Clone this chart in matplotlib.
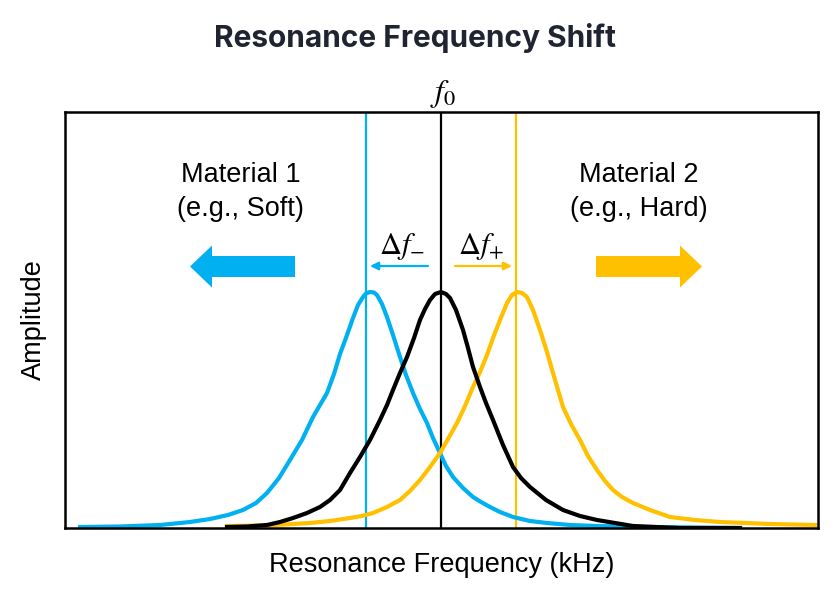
# -*- coding: utf-8 -*-
import matplotlib
matplotlib.use("Agg")
import matplotlib.pyplot as plt
from matplotlib.patches import FancyArrow

plt.rcParams['font.family'] = ['Liberation Sans', 'DejaVu Sans']
plt.rcParams['mathtext.fontset'] = 'stix'

BLUE = '#00B0F0'
GOLD = '#FFC000'

# arbitrary units (no ticks on the chart)
f_soft = 301
f_0 = 376
f_hard = 451

# Material 1 (soft) response
soft_x = [15, 55, 95, 125, 145, 163, 178, 191, 202, 214, 225, 237, 248, 255, 262, 269, 275,
          282, 288, 293, 298, 301, 305, 309, 312, 317, 322, 328, 335, 341, 348, 355, 362,
          368, 375, 381, 388, 398, 408, 416, 425, 435, 448, 465, 482, 505, 532, 575, 675]
soft_y = [1, 1.5, 3, 6, 9, 13, 18, 25, 35, 50, 68, 88, 111, 123, 135, 154, 174,
          193, 210, 223, 231, 234.5, 236, 235.5, 233, 224, 211, 193, 171, 153, 135, 119, 105,
          90, 75, 62, 51, 40, 31, 26, 21, 16, 11, 7, 5, 3, 2, 1, 0]

# reference response (f0)
ref_x = [162, 182, 202, 215, 228, 242, 255, 265, 275, 285, 295, 305, 315, 322, 328, 335,
         342, 349, 355, 360, 365, 370, 376, 381, 385, 391, 398, 403, 408, 415, 421, 428,
         438, 448, 456, 465, 481, 498, 515, 532, 550, 568, 615, 675]
ref_y = [1, 1.5, 3, 6, 10, 15, 21, 28, 38, 55, 71, 88, 108, 123, 138, 155,
         171, 190, 208, 219, 228, 234, 236, 234, 230, 218, 198, 180, 161, 141, 125, 108,
         83, 61, 50, 41, 28, 18, 12, 8, 5, 2, 0, 0]

# Material 2 (hard) response
hard_x = [162, 202, 245, 265, 285, 297, 308, 322, 335, 345, 355, 365, 375, 383, 392, 400,
          408, 415, 422, 428, 435, 442, 447, 452, 457, 462, 468, 475, 482, 488, 493, 498,
          506, 515, 523, 532, 540, 548, 557, 568, 585, 605, 630, 655, 705, 750]
hard_y = [2, 2.5, 5, 7, 10, 12, 15, 21, 28, 37, 48, 61, 75, 89, 105, 122,
          141, 156, 173, 190, 208, 225, 233, 236, 235, 231, 218, 198, 176, 155, 138, 121,
          104, 88, 72, 58, 47, 38, 31, 25, 18, 11, 8, 6, 4, 3]

fig = plt.figure(figsize=(8.4, 6), dpi=100)
ax = fig.add_axes([65 / 840, 72 / 600, 753 / 840, 416 / 600])
ax.set_xlim(0, 753)
ax.set_ylim(0, 416)

ax.axvline(f_soft, color=BLUE, lw=1.6, zorder=1)
ax.axvline(f_0, color='black', lw=1.6, zorder=1)
ax.axvline(f_hard, color=GOLD, lw=1.6, zorder=1)

ax.plot(soft_x, soft_y, color=BLUE, lw=3, zorder=2, solid_joinstyle='round')
ax.plot(hard_x, hard_y, color=GOLD, lw=3, zorder=2, solid_joinstyle='round')
ax.plot(ref_x, ref_y, color='black', lw=3, zorder=3, solid_joinstyle='round')

ax.set_xticks([])
ax.set_yticks([])
for s in ax.spines.values():
    s.set_linewidth(1.8)

# small shift arrows
ax.annotate('', xy=(305, 262), xytext=(363, 262),
            arrowprops=dict(arrowstyle='-|>', color=BLUE, lw=1.6, mutation_scale=12,
                            shrinkA=0, shrinkB=0))
ax.annotate('', xy=(447, 262), xytext=(390, 262),
            arrowprops=dict(arrowstyle='-|>', color=GOLD, lw=1.6, mutation_scale=12,
                            shrinkA=0, shrinkB=0))
ax.text(337, 282, r'$\Delta f_{-}$', fontsize=22, ha='center', va='center')
ax.text(416, 282, r'$\Delta f_{+}$', fontsize=22, ha='center', va='center')
ax.text(f_0 + 2, 1.005, r'$f_0$', fontsize=23, ha='center', va='bottom',
        transform=ax.get_xaxis_transform())

# big direction arrows
ax.add_patch(FancyArrow(230, 261.5, -105, 0, width=21, head_width=42,
                        head_length=22, length_includes_head=True, color=BLUE, lw=0))
ax.add_patch(FancyArrow(531, 261.5, 106, 0, width=21, head_width=42,
                        head_length=22, length_includes_head=True, color=GOLD, lw=0))

ax.text(175.5, 353, 'Material 1', fontsize=19.5, ha='center', va='center')
ax.text(175.5, 319, '(e.g., Soft)', fontsize=19.5, ha='center', va='center')
ax.text(574, 353, 'Material 2', fontsize=19.5, ha='center', va='center')
ax.text(574, 319, '(e.g., Hard)', fontsize=19.5, ha='center', va='center')

ax.set_xlabel('Resonance Frequency (kHz)', fontsize=19.5, labelpad=17)
ax.set_ylabel('Amplitude', fontsize=19.5, labelpad=13)

fig.text(415 / 840, 1 - 38 / 600, 'Resonance Frequency Shift', fontsize=21.5,
         fontweight='bold', family=['Inter', 'DejaVu Sans'], color='#1F2430',
         ha='center', va='center')

fig.savefig('out.png', dpi=100)
